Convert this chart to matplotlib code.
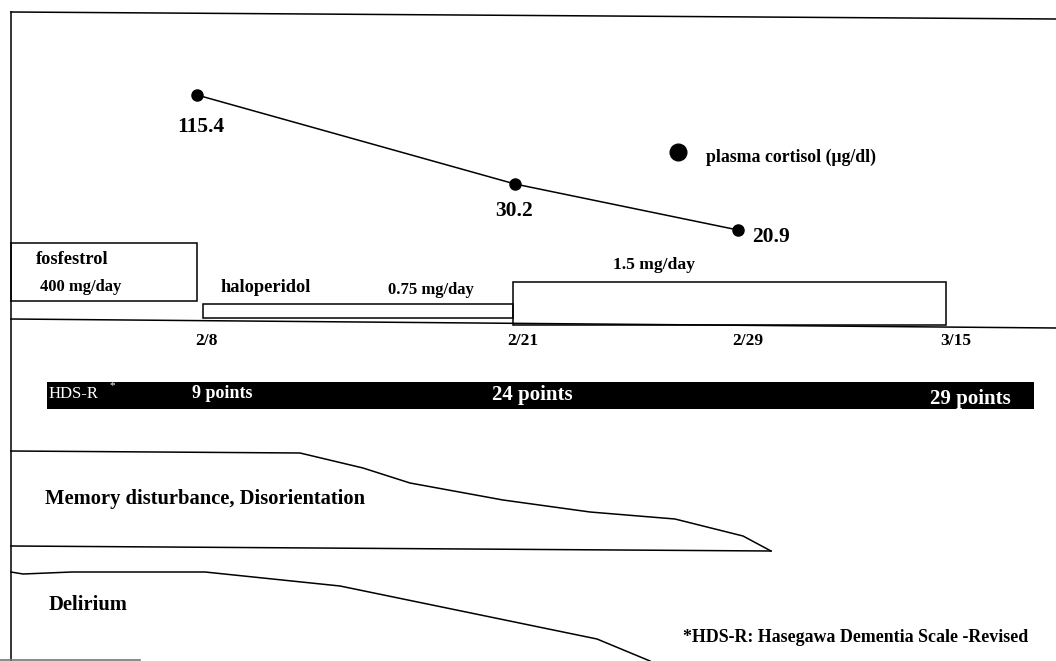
import numpy as np
import matplotlib.pyplot as plt
from matplotlib.patches import Rectangle

plt.rcParams['font.family'] = ['Liberation Serif', 'DejaVu Serif']
plt.rcParams['font.weight'] = 'bold'

# timeline (schematic positions of the dates along the x axis)
dates = ['2/8', '2/21', '2/29', '3/15']
date_x = [197, 513, 738, 946]

# plasma cortisol (ug/dl), drawn at schematic heights
cortisol = [115.4, 30.2, 20.9]
cortisol_x = [197, 515, 738]
cortisol_h = [95, 184, 230]

# medication spans on the timeline
fosfestrol = (11, 197)
halo_low = (203, 513)
halo_high = (513, 946)

# HDS-R scores
hds_scores = [9, 24, 29]
hds_x = [187, 487, 925]
hds_size = [13, 15, 15]

# symptom curves (schematic)
memory_x = [11, 300, 363, 410, 503, 590, 675, 743, 771]
memory_y = [451, 453, 468, 483, 500, 512, 519, 536, 551]
memory_base_x = [11, 771]
memory_base_y = [546, 551]
delirium_x = [11, 23, 72, 205, 340, 597, 650]
delirium_y = [572, 574, 572, 572, 586, 639, 661]

fig = plt.figure(figsize=(10.56, 6.61), dpi=100)
ax = fig.add_axes([0, 0, 1, 1])
ax.set_xlim(0, 1056)
ax.set_ylim(661, 0)
ax.axis('off')

lw = 1.1
# frame
ax.plot([11, 1056], [12, 19], color='black', lw=lw)
ax.plot([11, 11], [12, 661], color='black', lw=lw)
ax.plot([0, 140], [660, 660], color='#777777', lw=1.2)
ax.plot([11, 1056], [319, 328], color='black', lw=lw)

# cortisol
ax.plot(cortisol_x, cortisol_h, color='black', lw=lw, marker='o', ms=8, mfc='black')
ax.text(cortisol_x[0] + 4, 127, f'{cortisol[0]}', fontsize=15.5, ha='center', va='center')
ax.text(cortisol_x[1] - 1, 211, f'{cortisol[1]}', fontsize=15.5, ha='center', va='center')
ax.text(cortisol_x[2] + 14, 237, f'{cortisol[2]}', fontsize=15.5, ha='left', va='center')
ax.plot([678], [152], 'o', color='black', ms=12)
ax.text(706, 157, 'plasma cortisol (μg/dl)', fontsize=12.8, ha='left', va='center')

# medication boxes
ax.add_patch(Rectangle((fosfestrol[0], 243), fosfestrol[1] - fosfestrol[0], 58,
                       fill=False, ec='black', lw=lw))
ax.add_patch(Rectangle((halo_low[0], 304), halo_low[1] - halo_low[0], 14,
                       fill=False, ec='black', lw=lw))
ax.add_patch(Rectangle((halo_high[0], 282), halo_high[1] - halo_high[0], 43,
                       fill=False, ec='black', lw=lw))
ax.text(36, 259, 'fosfestrol', fontsize=13.2, va='center')
ax.text(40, 287, '400 mg/day', fontsize=12, va='center')
ax.text(220, 288, 'haloperidol', fontsize=13.2, va='center')
ax.text(388, 290, '0.75 mg/day', fontsize=12, va='center')
ax.text(613, 265, '1.5 mg/day', fontsize=12.6, va='center')

for d, x in zip(dates, date_x):
    ax.text(x + 10, 341, d, fontsize=12.5, ha='center', va='center')

# HDS-R bar
ax.add_patch(Rectangle((47, 382), 1034 - 47, 27, color='black', lw=0))
ax.text(49, 394, 'HDS-R', fontsize=12, color='white', va='center', fontweight='normal')
ax.text(109, 386, '*', fontsize=8, color='white', va='center', fontweight='normal')
for s, x, fs, dy in zip(hds_scores, hds_x, hds_size, [0, 1, 5]):
    ax.text(x + 5, 394 + dy, f'{s} points', fontsize=fs, color='white', va='center')

# symptoms
ax.plot(memory_x, memory_y, color='black', lw=lw)
ax.plot(memory_base_x, memory_base_y, color='black', lw=lw)
ax.text(45, 499, 'Memory disturbance, Disorientation', fontsize=14.8, va='center')
ax.plot(delirium_x, delirium_y, color='black', lw=lw)
ax.text(49, 605, 'Delirium', fontsize=14.8, va='center')

ax.text(683, 637, '*HDS-R: Hasegawa Dementia Scale -Revised', fontsize=12.9, va='center')

fig.savefig('out.png', dpi=100)
